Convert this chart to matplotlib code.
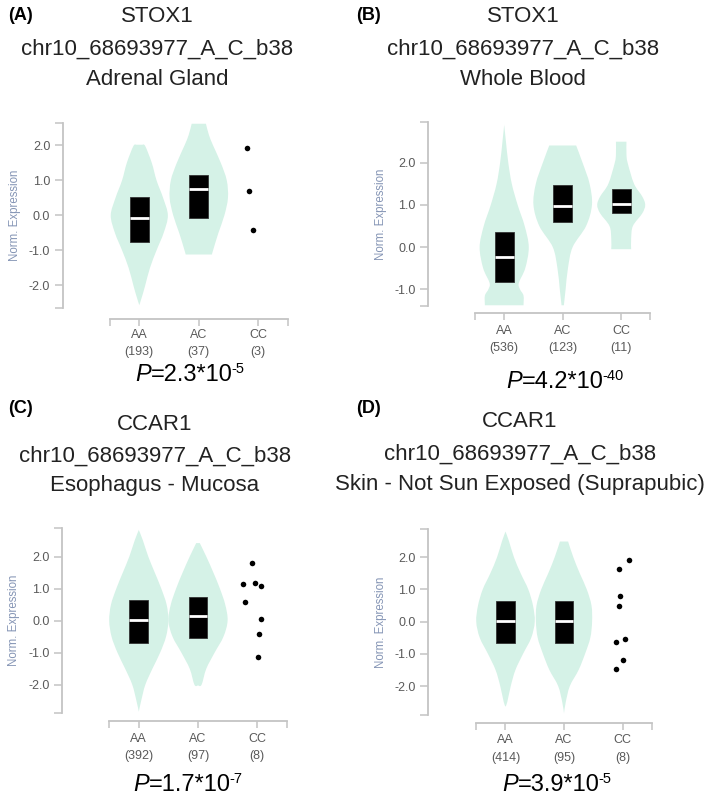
import numpy as np
import matplotlib
matplotlib.use("Agg")
import matplotlib.pyplot as plt
from matplotlib.path import Path
from matplotlib.patches import PathPatch, Rectangle

plt.rcParams['font.family'] = ['Liberation Sans', 'DejaVu Sans']

# ---------------- data ----------------
categories = ["AA", "AC", "CC"]

panel_tags = ["(A)", "(B)", "(C)", "(D)"]
genes = ["STOX1", "STOX1", "CCAR1", "CCAR1"]
variant = "chr10_68693977_A_C_b38"
tissues = ["Adrenal Gland", "Whole Blood", "Esophagus - Mucosa",
           "Skin - Not Sun Exposed (Suprapubic)"]
counts_A = [193, 37, 3]
counts_B = [536, 123, 11]
counts_C = [392, 97, 8]
counts_D = [414, 95, 8]
p_mantissa = ["2.3", "4.2", "1.7", "3.9"]
p_exponent = ["-5", "-40", "-7", "-5"]
yticks_A = [2.0, 1.0, 0.0, -1.0, -2.0]
yticks_B = [2.0, 1.0, 0.0, -1.0]
yticks_C = [2.0, 1.0, 0.0, -1.0, -2.0]
yticks_D = [2.0, 1.0, 0.0, -1.0, -2.0]

# violin profiles: expression levels and relative half-widths
vA_AA_y = [2.02, 1.98, 1.5, 1.0, 0.5, 0.0, -0.5, -1.0, -1.5, -2.0, -2.3, -2.57]
vA_AA_w = [0.05, 0.10, 0.21, 0.29, 0.40, 0.48, 0.41, 0.29, 0.18, 0.10, 0.05, 0.0]
vA_AC_y = [2.62, 2.3, 2.0, 1.5, 1.0, 0.5, 0.0, -0.5, -1.0, -1.12]
vA_AC_w = [0.12, 0.17, 0.24, 0.37, 0.47, 0.49, 0.43, 0.33, 0.24, 0.22]

vB_AA_y = [2.9, 2.5, 2.0, 1.5, 1.0, 0.5, 0.0, -0.5, -0.85, -1.0, -1.15, -1.38]
vB_AA_w = [0.0, 0.03, 0.07, 0.13, 0.23, 0.35, 0.42, 0.36, 0.25, 0.27, 0.33, 0.33]
vB_AC_y = [2.41, 2.0, 1.5, 1.0, 0.5, 0.0, -0.5, -1.0, -1.38]
vB_AC_w = [0.23, 0.34, 0.46, 0.50, 0.40, 0.17, 0.09, 0.05, 0.02]
vB_CC_y = [2.5, 2.2, 2.0, 1.5, 1.2, 1.0, 0.8, 0.5, 0.2, -0.05]
vB_CC_w = [0.09, 0.09, 0.11, 0.22, 0.36, 0.41, 0.36, 0.20, 0.17, 0.17]

vC_AA_y = [2.83, 2.5, 2.0, 1.5, 1.0, 0.5, 0.0, -0.5, -1.0, -1.5, -2.0, -2.5, -2.84]
vC_AA_w = [0.0, 0.07, 0.16, 0.27, 0.38, 0.47, 0.50, 0.46, 0.36, 0.23, 0.11, 0.04, 0.0]
vC_AC_y = [2.42, 2.0, 1.5, 1.0, 0.5, 0.0, -0.5, -1.0, -1.5, -2.0, -2.02]
vC_AC_w = [0.03, 0.14, 0.26, 0.37, 0.46, 0.50, 0.43, 0.28, 0.14, 0.06, 0.0]

vD_AA_y = [2.8, 2.5, 2.0, 1.5, 1.0, 0.5, 0.0, -0.5, -1.0, -1.5, -2.0, -2.5, -2.64]
vD_AA_w = [0.0, 0.06, 0.145, 0.26, 0.39, 0.47, 0.50, 0.44, 0.30, 0.17, 0.09, 0.03, 0.0]
vD_AC_y = [2.49, 2.0, 1.5, 1.0, 0.5, 0.0, -0.5, -1.0, -1.5, -2.0, -2.5, -2.85]
vD_AC_w = [0.07, 0.16, 0.27, 0.39, 0.47, 0.48, 0.45, 0.36, 0.25, 0.10, 0.03, 0.0]

# boxes: (Q1, median, Q3)
boxes_A = {"AA": (-0.76, -0.09, 0.52), "AC": (-0.07, 0.76, 1.16)}
boxes_B = {"AA": (-0.82, -0.23, 0.35), "AC": (0.59, 0.97, 1.47), "CC": (0.80, 1.02, 1.37)}
boxes_C = {"AA": (-0.69, 0.03, 0.65), "AC": (-0.55, 0.15, 0.73)}
boxes_D = {"AA": (-0.65, 0.02, 0.65), "AC": (-0.65, 0.03, 0.65)}

# individual CC samples
ptsA_CC = [1.94, 0.71, -0.43]
ptsA_jit = [-0.19, -0.15, -0.09]
ptsC_CC = [1.81, 1.15, 1.16, 1.09, 0.57, 0.06, -0.42, -1.13]
ptsC_jit = [-0.085, -0.24, -0.03, 0.057, -0.2, 0.057, 0.028, 0.011]
ptsD_CC = [1.91, 1.65, 0.81, 0.50, -0.53, -0.62, -1.19, -1.46]
ptsD_jit = [0.116, -0.058, -0.046, -0.058, 0.04, -0.104, 0.0, -0.116]

panels = [
    dict(tag=panel_tags[0], gene=genes[0], tissue=tissues[0], counts=counts_A,
         pm=p_mantissa[0], pe=p_exponent[0], yticks=yticks_A,
         violins={"AA": (vA_AA_y, vA_AA_w), "AC": (vA_AC_y, vA_AC_w)},
         boxes=boxes_A, pts=(ptsA_CC, ptsA_jit)),
    dict(tag=panel_tags[1], gene=genes[1], tissue=tissues[1], counts=counts_B,
         pm=p_mantissa[1], pe=p_exponent[1], yticks=yticks_B,
         violins={"AA": (vB_AA_y, vB_AA_w), "AC": (vB_AC_y, vB_AC_w), "CC": (vB_CC_y, vB_CC_w)},
         boxes=boxes_B, pts=None),
    dict(tag=panel_tags[2], gene=genes[2], tissue=tissues[2], counts=counts_C,
         pm=p_mantissa[2], pe=p_exponent[2], yticks=yticks_C,
         violins={"AA": (vC_AA_y, vC_AA_w), "AC": (vC_AC_y, vC_AC_w)},
         boxes=boxes_C, pts=(ptsC_CC, ptsC_jit)),
    dict(tag=panel_tags[3], gene=genes[3], tissue=tissues[3], counts=counts_D,
         pm=p_mantissa[3], pe=p_exponent[3], yticks=yticks_D,
         violins={"AA": (vD_AA_y, vD_AA_w), "AC": (vD_AC_y, vD_AC_w)},
         boxes=boxes_D, pts=(ptsD_CC, ptsD_jit)),
]

# ---------------- layout (pixels) ----------------
W, H = 709, 796
layout = [
    dict(spine_x=62.7, top_px=122.7, bot_px=308.0, ytop=2.65, ybot=-2.65, cat0=139.3, step=59.5,
         xaxis_px=319.0, tag_x=8, tag_b=20, title_x=157, title_b=(21.7, 55, 85),
         ylab_x=15, tick_top=10, p_x=190, p_b=381),
    dict(spine_x=428.0, top_px=122.3, bot_px=305.7, ytop=2.96, ybot=-1.39, cat0=504.2, step=58.5,
         xaxis_px=313.3, tag_x=356, tag_b=20, title_x=523, title_b=(21.7, 55, 85),
         ylab_x=381, tick_top=12, p_x=565, p_b=388),
    dict(spine_x=62.3, top_px=527.7, bot_px=713.3, ytop=2.9, ybot=-2.89, cat0=138.8, step=59.2,
         xaxis_px=721.0, tag_x=8, tag_b=413, title_x=155, title_b=(430, 461.7, 490.7),
         ylab_x=14, tick_top=12, p_x=188, p_b=791),
    dict(spine_x=428.0, top_px=529.3, bot_px=715.0, ytop=2.87, ybot=-2.9, cat0=505.5, step=58.5,
         xaxis_px=722.7, tag_x=356, tag_b=413, title_x=520, title_b=(426.7, 459.3, 490),
         ylab_x=381, tick_top=12, p_x=557, p_b=791),
]

VIOLIN = "#d5f2e7"
SPINE = "#c4c4c4"
TICKTXT = "#5a5a5a"
YLAB = "#8595b5"

fig = plt.figure(figsize=(W / 100, H / 100), dpi=100)
renderer = fig.canvas.get_renderer()


def fx(px):
    return px / W


def fy(py):
    return 1 - py / H


def smooth_curve(pts):
    verts, codes = [], []
    n = len(pts)
    for i in range(n - 1):
        p0 = pts[i - 1] if i > 0 else pts[i]
        p1, p2 = pts[i], pts[i + 1]
        p3 = pts[i + 2] if i + 2 < n else pts[i + 1]
        c1 = p1 + (p2 - p0) / 6.0
        c2 = p2 - (p3 - p1) / 6.0
        verts += [c1, c2, p2]
        codes += [Path.CURVE4] * 3
    return verts, codes


def violin(ax, xc, ys, ws):
    ys = np.asarray(ys, float)
    ws = np.asarray(ws, float)
    right = np.column_stack([xc + ws, ys])
    left = np.column_stack([xc - ws, ys])[::-1]
    verts = [right[0]]
    codes = [Path.MOVETO]
    v, c = smooth_curve(right)
    verts += v; codes += c
    verts.append(left[0]); codes.append(Path.LINETO)
    v, c = smooth_curve(left)
    verts += v; codes += c
    verts.append(right[0]); codes.append(Path.CLOSEPOLY)
    ax.add_patch(PathPatch(Path(verts, codes), facecolor=VIOLIN, edgecolor="none", zorder=1))


def p_text(xc, yb, mant, expo):
    pieces = [("P", dict(fontsize=17, style="italic"), 0.0, 0.0),
              ("=" + mant + "*10", dict(fontsize=17), 0.0, -1.5),
              (expo, dict(fontsize=10.5), 8.0, 0.0)]
    arts, widths = [], []
    for s, kw, rise, kern in pieces:
        t = fig.text(0, 0, s, ha="left", va="baseline", color="black", **kw)
        widths.append(t.get_window_extent(renderer).width + kern)
        arts.append(t)
    total = sum(widths)
    x = xc - total / 2
    for t, w, (s, kw, rise, kern) in zip(arts, widths, pieces):
        t.set_position((fx(x), fy(yb - rise)))
        x += w


for pan, lay in zip(panels, layout):
    x_right = lay["cat0"] + 2.5 * lay["step"]
    ax = fig.add_axes([fx(lay["spine_x"]), fy(lay["bot_px"]),
                       (x_right - lay["spine_x"]) / W, (lay["bot_px"] - lay["top_px"]) / H])
    ax.set_xlim((lay["spine_x"] - lay["cat0"]) / lay["step"], 2.5)
    ax.set_ylim(lay["ybot"], lay["ytop"])
    ax.patch.set_alpha(0)
    for s in ["top", "right"]:
        ax.spines[s].set_visible(False)
    ax.spines["left"].set_color(SPINE)
    ax.spines["left"].set_linewidth(1.3)
    ax.spines["bottom"].set_color(SPINE)
    ax.spines["bottom"].set_linewidth(1.3)
    ax.spines["bottom"].set_position(("outward", (lay["xaxis_px"] - lay["bot_px"]) * 0.72))
    ax.spines["bottom"].set_bounds(-0.5, 2.5)

    ax.set_yticks(pan["yticks"])
    ax.set_yticklabels([f"{t:.1f}" for t in pan["yticks"]])
    ax.set_yticks([lay["ybot"], lay["ytop"]], minor=True)
    ax.tick_params(axis="y", which="both", direction="out", length=6, width=1.1,
                   color=SPINE, labelcolor=TICKTXT, labelsize=9, pad=3)
    ax.set_xticks(range(len(categories)))
    ax.set_xticklabels([])
    ax.set_xticks([-0.5, 2.5], minor=True)
    ax.tick_params(axis="x", which="both", direction="out", length=5, width=1.1, color=SPINE)

    # violins
    for i, cat in enumerate(categories):
        if cat in pan["violins"]:
            ys, ws = pan["violins"][cat]
            violin(ax, i, ys, ws)
    # boxes
    bw = 0.32
    for i, cat in enumerate(categories):
        if cat in pan["boxes"]:
            q1, med, q3 = pan["boxes"][cat]
            ax.add_patch(Rectangle((i - bw / 2, q1), bw, q3 - q1, facecolor="black",
                                   edgecolor="#333333", lw=0.6, zorder=3))
            ax.plot([i - bw / 2, i + bw / 2], [med, med], color="white", lw=2.0,
                    solid_capstyle="butt", zorder=4)
    # points
    if pan["pts"] is not None:
        vals, jit = pan["pts"]
        ax.scatter(2 + np.asarray(jit), vals, s=16, color="black", zorder=5, linewidths=0)

    # x labels
    for i, cat in enumerate(categories):
        xpx = lay["cat0"] + i * lay["step"]
        top = lay["xaxis_px"] + lay["tick_top"]
        fig.text(fx(xpx), fy(top + 8.5), cat, ha="center", va="baseline",
                 fontsize=9, color=TICKTXT)
        fig.text(fx(xpx), fy(top + 26), f"({pan['counts'][i]})", ha="center", va="baseline",
                 fontsize=9, color=TICKTXT)

    # y label
    fig.text(fx(lay["ylab_x"]), fy((lay["top_px"] + lay["bot_px"]) / 2), "Norm. Expression",
             rotation=90, ha="center", va="center", fontsize=8.3, color=YLAB)

    # titles
    fig.text(fx(lay["tag_x"]), fy(lay["tag_b"]), pan["tag"], ha="left", va="baseline",
             fontsize=13, fontweight="bold", color="black")
    for line, b in zip([pan["gene"], variant, pan["tissue"]], lay["title_b"]):
        fig.text(fx(lay["title_x"]), fy(b), line, ha="center", va="baseline",
                 fontsize=16, color="#222222")
    p_text(lay["p_x"], lay["p_b"], pan["pm"], pan["pe"])

fig.savefig("out.png", dpi=100, facecolor="white")
